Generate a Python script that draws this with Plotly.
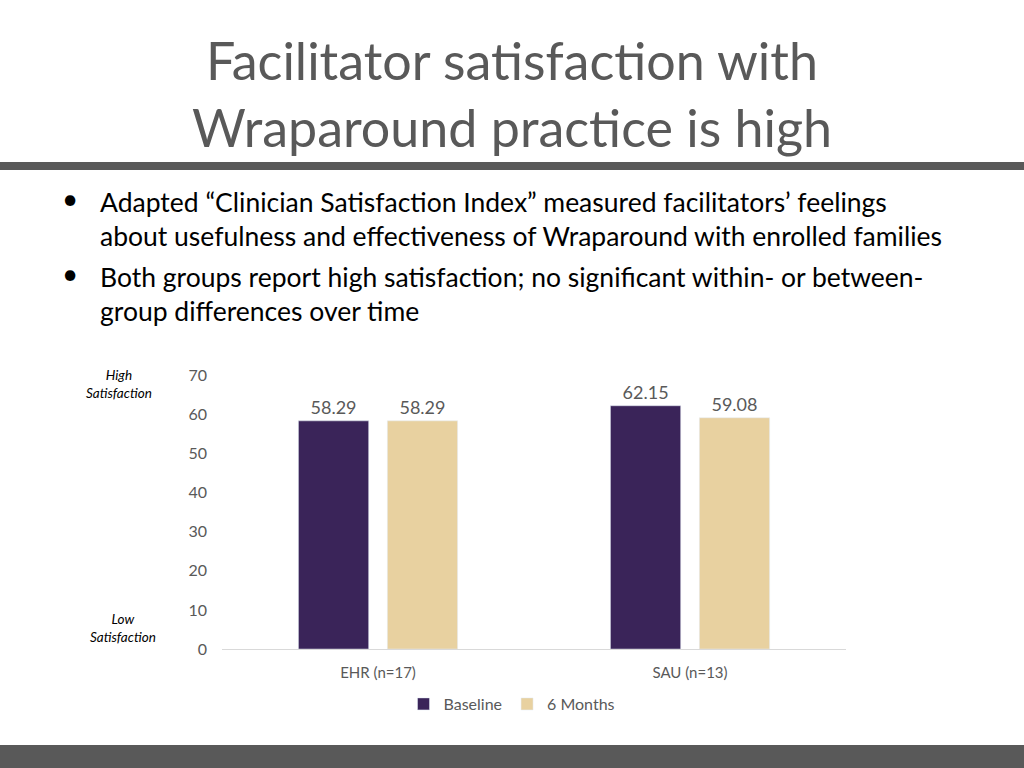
import plotly.graph_objects as go

categories = ["EHR (n=17)", "SAU (n=13)"]
baseline = [58.29, 62.15]
six_months = [58.29, 59.08]
series_names = ["Baseline", "6 Months"]
y_ticks = [0, 10, 20, 30, 40, 50, 60, 70]
title_lines = ["Facilitator satisfaction with", "Wraparound practice is high"]
bullet_lines = [
    ("Adapted “Clinician Satisfaction Index” measured facilitators’ feelings", True),
    ("about usefulness and effectiveness of Wraparound with enrolled families", False),
    ("Both groups report high satisfaction; no significant within- or between-", True),
    ("group differences over time", False),
]

PURPLE = "#3a2459"
GOLD = "#e8d1a0"
GRAY = "#595959"
FONT = "Lato"

fig = go.Figure()
fig.add_trace(go.Bar(
    x=categories, y=baseline, name=series_names[0], marker_color=PURPLE,
    text=[f"{v:.2f}" for v in baseline], textposition="outside",
    textfont=dict(color=GRAY, size=18, family=FONT), cliponaxis=False,
))
fig.add_trace(go.Bar(
    x=categories, y=six_months, name=series_names[1], marker_color=GOLD,
    text=[f"{v:.2f}" for v in six_months], textposition="outside",
    textfont=dict(color=GRAY, size=18, family=FONT), cliponaxis=False,
))

fig.update_layout(
    width=1024, height=768,
    margin=dict(l=0, r=0, t=0, b=0, autoexpand=False),
    paper_bgcolor="white", plot_bgcolor="white",
    font=dict(family=FONT, color=GRAY),
    barmode="group", bargap=0.43, bargroupgap=0.21,
    showlegend=True,
    legend=dict(orientation="h", x=0.5, xanchor="center", y=1 - 704 / 768, yanchor="middle",
                font=dict(size=16, color=GRAY, family=FONT), traceorder="normal",
                itemwidth=30),
    xaxis=dict(domain=[0.2168, 0.8262], showline=True, linecolor="#d9d9d9", linewidth=1,
               ticks="", tickfont=dict(size=15, color=GRAY), showgrid=False,
               ticklabelstandoff=10, automargin=False),
    yaxis=dict(domain=[0.1549, 0.5117], range=[0, 70], tickvals=y_ticks,
               showgrid=False, zeroline=False, showline=False,
               tickfont=dict(size=16, color=GRAY), ticklabelstandoff=14, automargin=False),
)

# Title
for i, line in enumerate(title_lines):
    fig.add_annotation(text=line, xref="paper", yref="paper", x=0.5, y=1 - (60 + i * 67) / 768,
                       xanchor="center", yanchor="middle", showarrow=False,
                       font=dict(size=52, color=GRAY, family=FONT))

# Bullets
line_ys = [202, 236, 277, 311]
for (txt, has_bullet), yy in zip(bullet_lines, line_ys):
    fig.add_annotation(text=txt, xref="paper", yref="paper", x=98 / 1024, y=1 - yy / 768,
                       xanchor="left", yanchor="middle", showarrow=False,
                       font=dict(size=26.5, color="black", family=FONT))
    if has_bullet:
        fig.add_annotation(text="•", xref="paper", yref="paper", x=70 / 1024, y=1 - (yy - 4) / 768,
                           xanchor="center", yanchor="middle", showarrow=False,
                           font=dict(size=28, color="black", family=FONT))

# Side labels
fig.add_annotation(text="<i>High<br>Satisfaction</i>", xref="paper", yref="paper",
                   x=119 / 1024, y=1 - 384 / 768, xanchor="center", yanchor="middle",
                   showarrow=False, font=dict(size=13.5, color="black", family=FONT))
fig.add_annotation(text="<i>Low<br>Satisfaction</i>", xref="paper", yref="paper",
                   x=123 / 1024, y=1 - 628 / 768, xanchor="center", yanchor="middle",
                   showarrow=False, font=dict(size=13.5, color="black", family=FONT))

# Decorative bands
fig.add_shape(type="rect", xref="paper", yref="paper", x0=0, x1=1,
              y0=1 - 170 / 768, y1=1 - 162 / 768, fillcolor=GRAY, line_width=0)
fig.add_shape(type="rect", xref="paper", yref="paper", x0=0, x1=1,
              y0=0, y1=1 - 745 / 768, fillcolor=GRAY, line_width=0)

fig.write_html("out.html", config={"displayModeBar": False},
               post_script="document.body.style.margin='0';document.body.style.overflow='hidden';")
